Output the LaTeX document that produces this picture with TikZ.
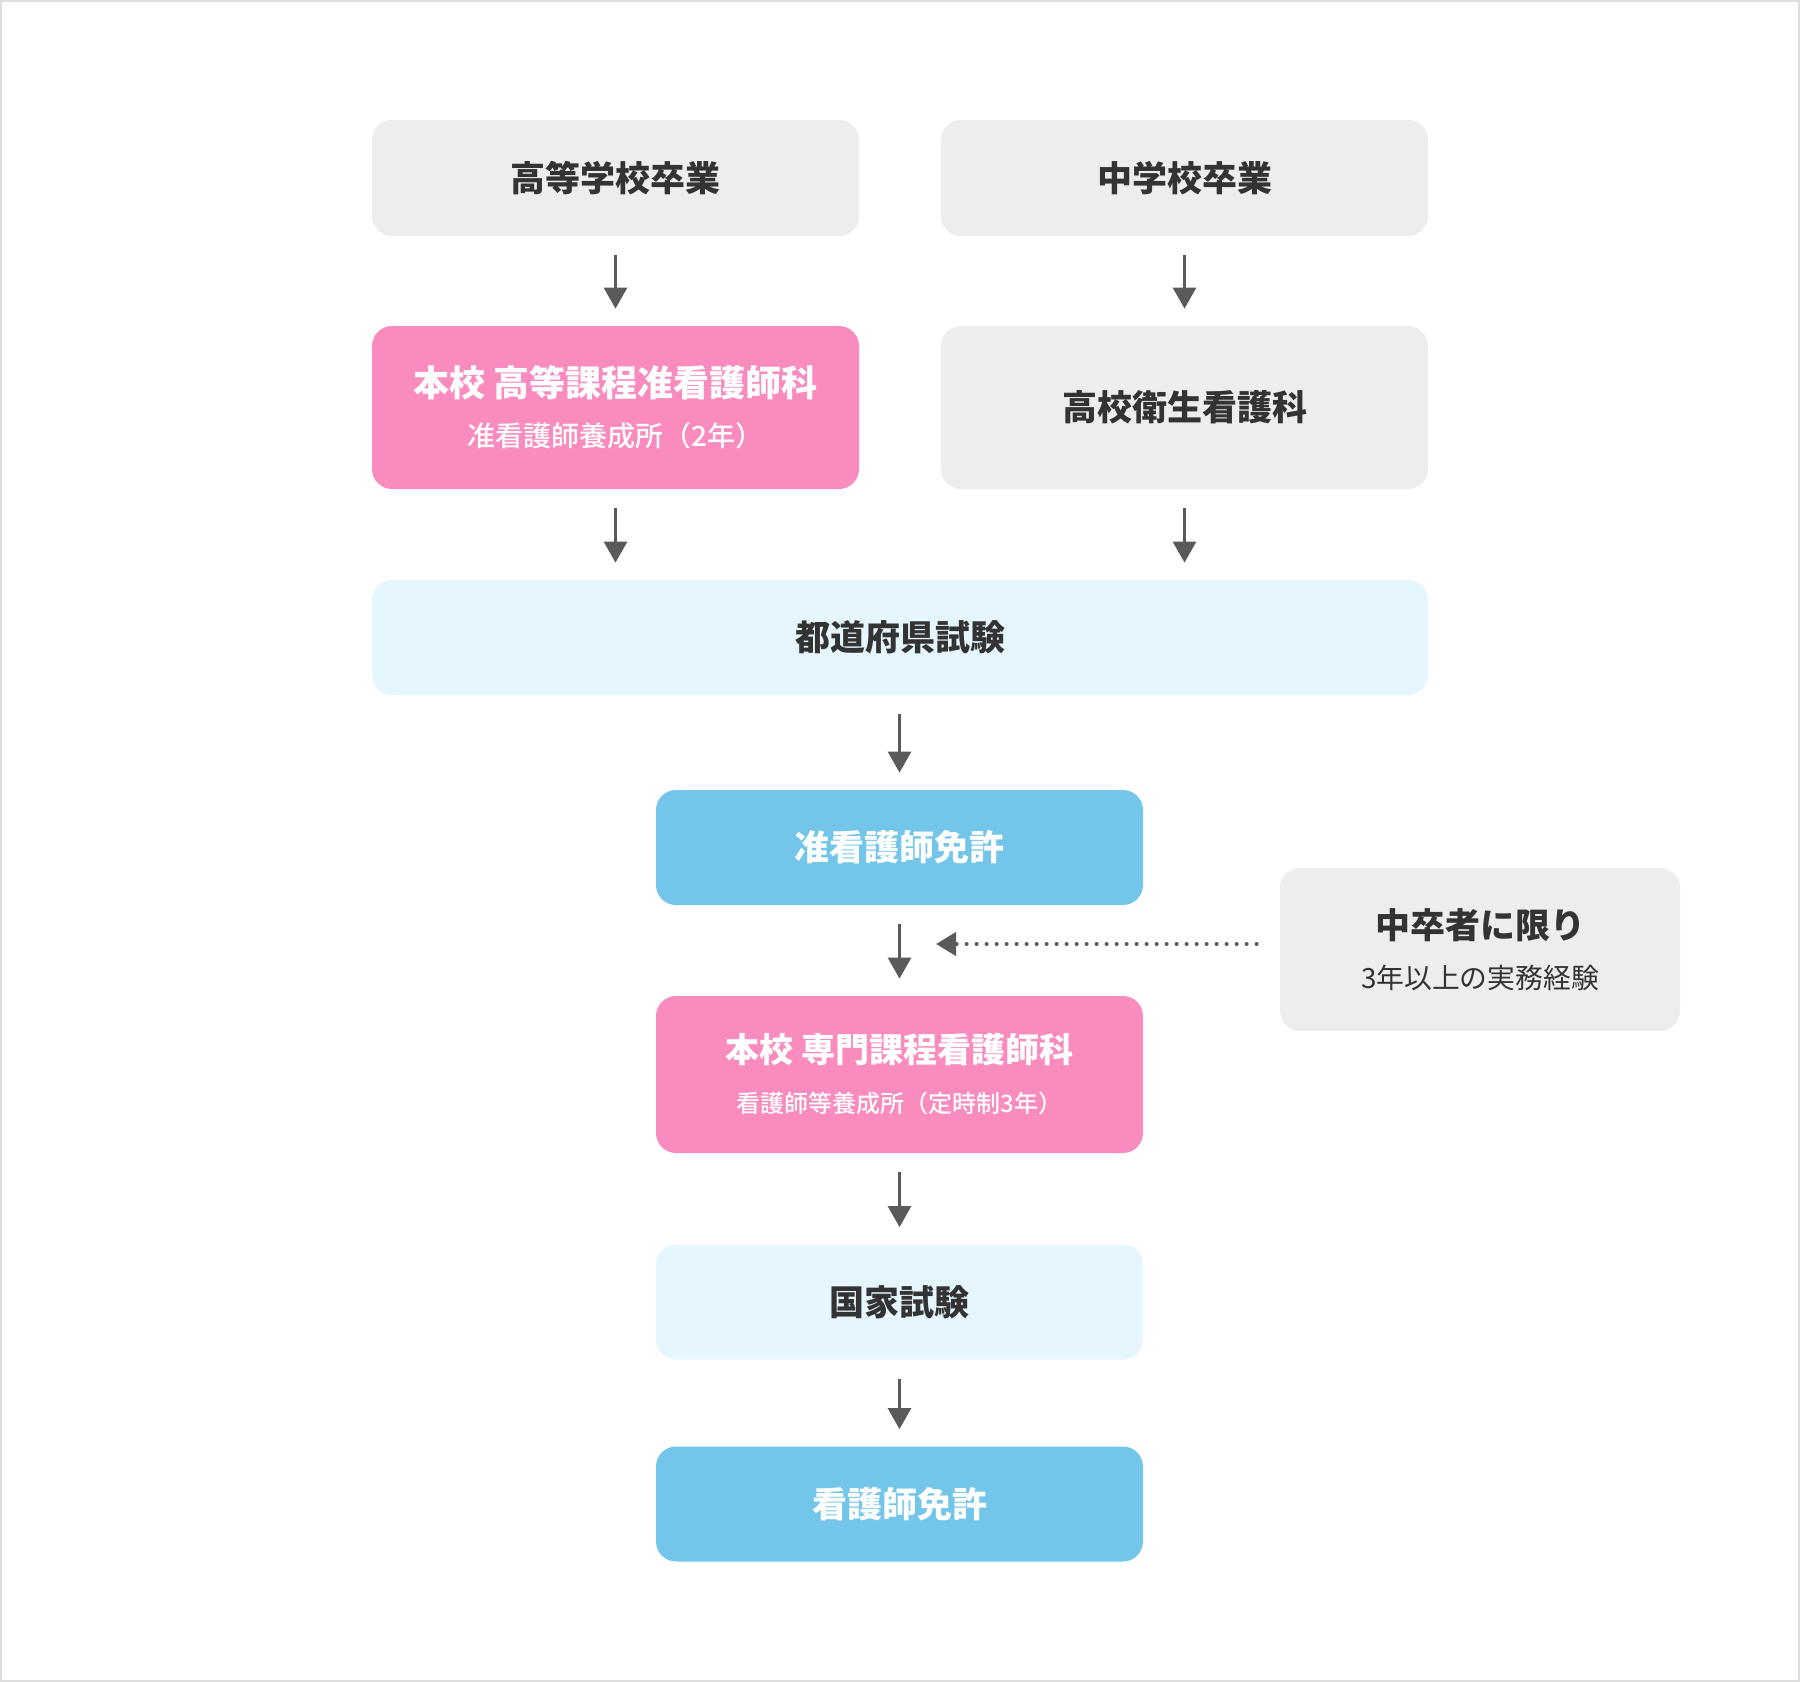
\documentclass[tikz,border=0pt]{standalone}
\usepackage{fontspec}
\setmainfont{Noto Sans CJK JP}
\newfontfamily\mediumfont{Noto Sans CJK JP Medium}
\usetikzlibrary{arrows.meta}

\definecolor{frameColor}{HTML}{DDDDDD}
\definecolor{grayColor}{HTML}{EDEDED}
\definecolor{pinkColor}{HTML}{F98BBE}
\definecolor{blueColor}{HTML}{73C6EA}
\definecolor{paleColor}{HTML}{E6F6FE}
\definecolor{arrowColor}{HTML}{5A5A5A}
\definecolor{textColor}{HTML}{333333}

\newcommand\titlefont{\bfseries\fontsize{17.5pt}{21pt}\selectfont}
\newcommand\subfont[1]{\mediumfont\mdseries\fontsize{#1}{16pt}\selectfont}

\begin{document}
\begin{tikzpicture}[x=0.5pt,y=-0.5pt,
  box/.style={rounded corners=10pt, inner sep=0pt, align=center,
    minimum width=243.5pt, minimum height=58pt, font=\titlefont},
  grayBox/.style={box, fill=grayColor, text=textColor},
  pinkBox/.style={box, fill=pinkColor, text=white, minimum height=81.5pt},
  blueBox/.style={box, fill=blueColor, text=white, minimum height=57.5pt},
  paleBox/.style={box, fill=paleColor, text=textColor, minimum height=57.5pt},
  flow/.style={draw=arrowColor, line width=1.5pt, shorten <=9.5pt, shorten >=8.5pt,
    -{Triangle[width=11.5pt,length=10.5pt]}},
  hint/.style={draw=arrowColor, line width=2pt, line cap=round,
    dash pattern=on 0pt off 5pt, shorten <=11.5pt,
    -{Triangle[width=11.5pt,length=10pt]}}]
  \useasboundingbox (0,0) rectangle (1800,1682);
  \draw[frameColor, line width=1pt] (1,1) rectangle (1799,1681);
  % Left and right entry
  \node[grayBox] (highschool) at (615.5,178) {高等学校卒業};
  \node[grayBox] (juniorhigh) at (1184.5,178) {中学校卒業};
  \node[pinkBox] (prepcourse) at (615.5,407.5)
    {\fontsize{18pt}{21pt}\selectfont 本校 高等課程准看護師科\\[4pt]\subfont{14pt}准看護師養成所（2年）};
  \node[grayBox, minimum height=81.5pt] (hygiene) at (1184.5,407.5) {高校衛生看護科};
  % Exams and licences
  \node[paleBox, minimum width=528pt] (prefexam) at (900,637.5) {都道府県試験};
  \node[blueBox] (assoclicence) at (899.5,847.5) {准看護師免許};
  \node[pinkBox, minimum height=78.5pt] (nursecourse) at (899.5,1074.5)
    {\fontsize{17pt}{21pt}\selectfont 本校 専門課程看護師科\\[4pt]\subfont{12pt}看護師等養成所（定時制3年）};
  \node[grayBox, minimum width=200pt, minimum height=81.5pt] (onlyjunior) at (1480,949.5)
    {中卒者に限り\\[4pt]\mdseries\fontsize{13.9pt}{16pt}\selectfont 3年以上の実務経験};
  \node[paleBox] (stateexam) at (899.5,1302) {国家試験};
  \node[blueBox] (licence) at (899.5,1504) {看護師免許};
  \coordinate (joinpoint) at (936,944);
  % Arrows
  \draw[flow] (highschool) -- (prepcourse);
  \draw[flow] (juniorhigh) -- (hygiene);
  \draw[flow] (prepcourse) -- (prepcourse |- prefexam.north);
  \draw[flow] (hygiene) -- (hygiene |- prefexam.north);
  \draw[flow] (prefexam.south -| assoclicence) -- (assoclicence);
  \draw[flow] (assoclicence) -- (nursecourse);
  \draw[flow] (nursecourse) -- (stateexam);
  \draw[flow] (stateexam) -- (licence);
  \draw[hint] ([yshift=2.75pt]onlyjunior.west) -- (joinpoint);
\end{tikzpicture}
\end{document}
